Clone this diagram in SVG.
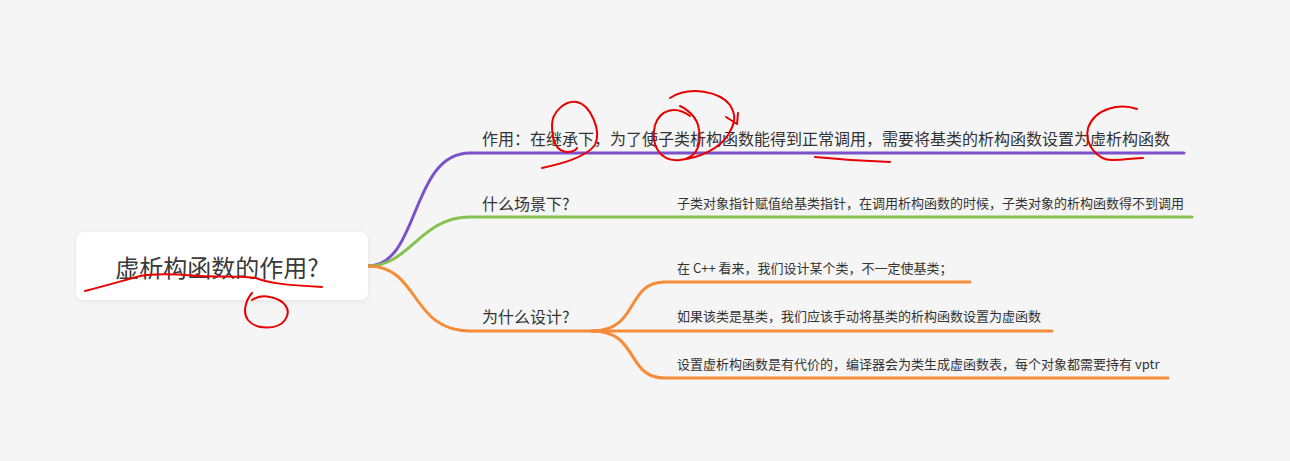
<svg xmlns="http://www.w3.org/2000/svg" width="1290" height="461" viewBox="0 0 1290 461">
<defs>
<filter id="sh" x="-10%" y="-20%" width="120%" height="150%"><feDropShadow dx="0" dy="1" stdDeviation="2" flood-color="#000" flood-opacity="0.08"/></filter>
<style>
text{font-family:"Noto Sans CJK SC","Noto Sans",sans-serif;fill:#333}
.t1{font-size:16px}
.t2{font-size:13px}
.root{font-size:24px;fill:#3a3a3a}
.c{fill:none;stroke-width:3;stroke-linecap:round}
.p{stroke:#7b52cc}
.g{stroke:#86c24f}
.o{stroke:#f78b37}
.r{fill:none;stroke:#e80000;stroke-width:2;stroke-linecap:round;stroke-linejoin:round}
</style>
</defs>
<rect width="1290" height="461" fill="#f5f5f5"/>
<g id="connectors">
<path class="c p" d="M368,266 C420,266 410,153 470,153 L1184,153"/>
<path class="c g" d="M368,266 C410,266 420,217 470,217 L1192,217"/>
<path class="c o" d="M368,266 C420,266 410,331 470,331 L1052,331"/>
<path class="c o" d="M592,331 C640,331 625,282 665,282 L970,282"/>
<path class="c o" d="M592,331 C640,331 625,378 665,378 L1168,378"/>
</g>
<g id="root">
<rect x="76" y="232" width="292" height="68" rx="8" fill="#ffffff" filter="url(#sh)"/>
<text class="root" x="217" y="277" text-anchor="middle">虚析构函数的作用?</text>
</g>
<g id="n1"><text class="t1" x="482" y="145">作用：在继承下，为了使子类析构函数能得到正常调用，需要将基类的析构函数设置为虚析构函数</text></g>
<g id="n2"><text class="t1" x="482" y="210">什么场景下?</text></g>
<g id="n2a"><text class="t2" x="677" y="208">子类对象指针赋值给基类指针，在调用析构函数的时候，子类对象的析构函数得不到调用</text></g>
<g id="n3"><text class="t1" x="482" y="323">为什么设计?</text></g>
<g id="n3a"><text class="t2" x="677" y="273">在 C++ 看来，我们设计某个类，不一定使基类；</text></g>
<g id="n3b"><text class="t2" x="677" y="321">如果该类是基类，我们应该手动将基类的析构函数设置为虚函数</text></g>
<g id="n3c"><text class="t2" x="677" y="369">设置虚析构函数是有代价的，编译器会为类生成虚函数表，每个对象都需要持有 vptr</text></g>
<g id="annotations">
<path class="r" d="M85,291 C105,286 125,280 140,276 C160,272 185,275 200,276 C220,277 245,276 256,278 C268,283 285,285 322,287"/>
<path class="r" d="M252,293 C246,300 242,312 248,320 C256,330 278,330 285,320 C292,310 285,300 270,297 C262,295 255,298 252,300"/>
<path class="r" d="M542,168 C560,164 585,158 595,145 C602,130 590,105 577,102 C565,100 552,112 552,125 C552,140 556,152 568,152 C575,152 577,148 577,148"/>
<path class="r" d="M690,116 C675,105 660,110 655,125 C650,145 660,162 680,160 C700,158 702,140 698,125 C694,112 680,106 680,106 M670,98 C690,85 720,92 730,105 C736,115 736,122 728,135 C720,148 700,158 680,160 M726,117 L737,124 L738,113"/>
<path class="r" d="M815,157 C835,159 860,161 890,162"/>
<path class="r" d="M1137,109 C1120,103 1095,108 1088,128 C1084,145 1098,160 1112,160 C1125,160 1135,158 1143,158"/>
</g>
</svg>
